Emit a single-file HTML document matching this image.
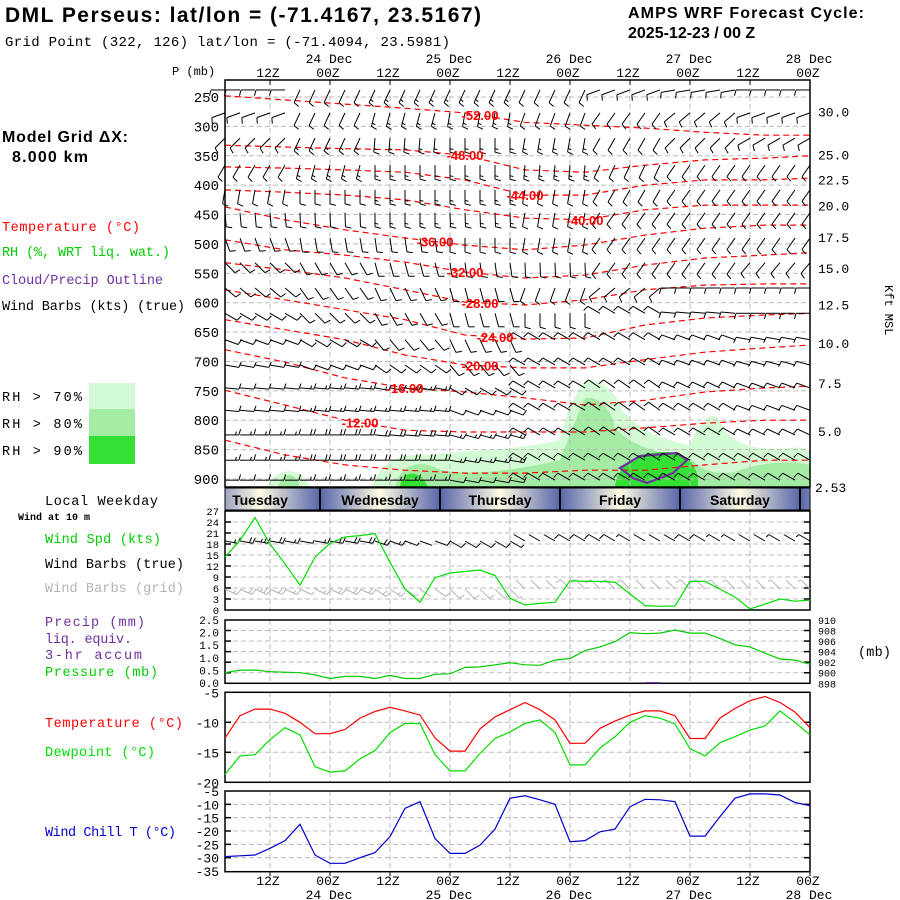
<!DOCTYPE html>
<html><head><meta charset="utf-8"><style>
html,body{margin:0;padding:0;background:#fff;}
svg{display:block;}
text{font-family:"Liberation Mono","DejaVu Sans Mono",monospace;}
.b{font-family:"Liberation Sans",Arial,sans-serif;font-weight:bold;}
</style></head><body>
<svg id="c" width="900" height="900" viewBox="0 0 900 900" xmlns="http://www.w3.org/2000/svg">
<defs></defs>
<text class="b" x="5" y="22" font-size="21" textLength="476">DML Perseus:  lat/lon = (-71.4167, 23.5167)</text>
<text x="5" y="46" font-size="14" textLength="445">Grid Point (322, 126) lat/lon = (-71.4094, 23.5981)</text>
<text class="b" x="628" y="18" font-size="16" textLength="236">AMPS WRF Forecast Cycle:</text>
<text class="b" x="628" y="38" font-size="16">2025-12-23 / 00  Z</text>
<text class="b" x="2" y="142" font-size="16" textLength="126">Model Grid ΔX:</text>
<text class="b" x="12" y="162" font-size="16" textLength="76">8.000 km</text>
<text x="172" y="75" font-size="12">P (mb)</text>
<g font-size="13.5">
<text x="2" y="231" fill="#ff0000" textLength="138">Temperature (°C)</text>
<text x="2" y="256" fill="#00cc00" textLength="168">RH (%, WRT liq. wat.)</text>
<text x="2" y="284" fill="#7030a0" textLength="161">Cloud/Precip Outline</text>
<text x="2" y="310" fill="#000" textLength="183">Wind Barbs (kts) (true)</text>
<text x="2" y="401" textLength="80">RH &gt; 70%</text>
<text x="2" y="428" textLength="80">RH &gt; 80%</text>
<text x="2" y="455" textLength="80">RH &gt; 90%</text>
<text x="45" y="505" textLength="113">Local Weekday</text>
<text x="45" y="543" fill="#00cc00" textLength="116">Wind Spd (kts)</text>
<text x="45" y="568" textLength="139">Wind Barbs (true)</text>
<text x="45" y="592" fill="#b4b4b4" textLength="139">Wind Barbs (grid)</text>
<text x="45" y="626" fill="#7030a0" textLength="100">Precip (mm)</text>
<text x="45" y="643" fill="#7030a0" textLength="87">liq. equiv.</text>
<text x="45" y="659" fill="#7030a0" textLength="97">3-hr accum</text>
<text x="45" y="676" fill="#00cc00" textLength="113">Pressure (mb)</text>
<text x="45" y="727" fill="#ff0000" textLength="138">Temperature (°C)</text>
<text x="45" y="756" fill="#00dd00" textLength="110">Dewpoint (°C)</text>
<text x="45" y="836" fill="#0000cc" textLength="131">Wind Chill T (°C)</text>
<text x="858" y="656" textLength="33">(mb)</text>
</g>
<text x="18" y="520" font-size="10" font-weight="bold">Wind at 10 m</text>
<rect x="89" y="383" width="46" height="26" fill="#d4fcd4"/>
<rect x="89" y="409" width="46" height="27" fill="#a4eca4"/>
<rect x="89" y="436" width="46" height="28" fill="#34e034"/>
<text x="885" y="285" font-size="12" transform="rotate(90 885 285)">Kft MSL</text>
</svg>
<script>
// ---------- data ----------
const nT = 40; // 3-hourly from 03Z 23 Dec to 00Z 28 Dec
const windSpd = [14.4,19,25.2,18,12.6,6.8,14.4,18.2,19.9,20.3,20.8,13,5.7,2.1,8.8,10.1,10.5,10.9,9.4,3.2,1.4,1.8,2.1,8,7.8,7.8,7.6,4.4,1.2,1,1.1,7.8,7.8,5.7,3.5,0.3,1.6,3,2.4,2.7];
const sfcDir = [100,100,110,120,300,300,300,300];
const pressure = [900,900.5,900.5,900.2,900.1,900,899.6,898.9,899.3,899.3,898.9,899.5,898.9,898.9,899.7,899.8,901,901.1,901.5,901.9,901.5,901.4,902.4,902.7,904.2,904.9,905.9,907.6,907.4,907.5,908.1,907.5,907.5,906.5,905.3,904.9,903.7,902.6,902.4,901.6];
const precip = [0,0,0,0,0,0,0,0,0,0,0,0,0,0,0,0,0,0,0,0,0,0,0,0,0,0,0,0,0.05,0,0,0,0,0,0,0,0,0,0,0];
const temp = [-12.6,-8.9,-7.8,-7.8,-8.5,-10,-11.9,-11.9,-11.2,-9.3,-8.2,-7.5,-8.1,-8.8,-12.6,-14.8,-14.8,-11.1,-9.1,-7.9,-6.7,-7.9,-9.6,-13.5,-13.5,-11,-9.8,-8.8,-8.1,-8.1,-8.9,-12.7,-12.7,-9.3,-7.7,-6.4,-5.7,-6.7,-8.3,-10.9];
const dewp = [-18.7,-15.6,-15.4,-12.9,-10.9,-12.1,-17.4,-18.3,-18.1,-16.1,-14.7,-11.7,-10.2,-10.2,-15.4,-18.1,-18.1,-15.2,-12.7,-11.6,-10.2,-9.6,-11.7,-17.1,-17.1,-14.3,-12.4,-10,-8.9,-9.3,-10.3,-14.4,-15.6,-13.4,-12.4,-11.3,-10.6,-8.1,-10,-12.1];
const windChill = [-29.6,-29.3,-29,-26.5,-23.6,-17.5,-29,-32.1,-32.1,-30,-28.1,-22.1,-11.5,-9,-22.8,-28.4,-28.4,-25.3,-19.3,-7.7,-6.8,-8.3,-10,-24,-23.6,-20.3,-19.3,-10.9,-8.1,-8.3,-9,-21.9,-21.9,-14.6,-7.7,-6.1,-6.1,-6.5,-9.3,-10.5];
// isotherm pressures at 11 nodes (every 4 time steps)
const isoValues = [-52,-48,-44,-40,-36,-32,-28,-24,-20,-16,-12,-8];
const iso52 = [248,255,262,269,277,293,298,303,310,315,315];
const iso48 = [332,335,338,340,349,374,378,366,357,354,350];
const iso44 = [369,371,374,378,391,417,417,400,391,391,388];
const iso40 = [408,412,417,425,442,456,459,442,434,434,434];
const iso36 = [437,459,476,490,502,510,502,485,473,468,468];
const iso32 = [493,510,519,531,548,558,553,536,524,519,515];
const iso28 = [532,544,558,578,599,604,595,578,570,568,568];
const iso24 = [578,595,612,629,655,662,660,638,626,621,618];
const iso20 = [629,646,663,689,706,711,711,697,684,677,672];
const iso16 = [680,701,728,745,752,762,774,766,752,745,742];
const iso12 = [749,774,800,817,820,820,820,813,805,800,800];
const iso08 = [834,859,876,885,890,890,885,885,876,868,868];
const isoLabelTime = [17,16,20,24,14,16,17,18,17,12,9,-1];
// upper-air barbs: levels (mb), direction (screen deg) & speed (kt) per 15-h block
const barbLevels = [238,277,320,366,408,447,490,532,575,618,663,706,745,783,825,868,902];
const barbDir = [
[270,205,205,205,205,250,260,270],[250,205,195,190,200,215,230,250],[225,205,185,180,190,210,225,240],
[210,195,180,180,185,205,215,215],[190,180,180,180,190,210,215,215],[175,178,180,178,190,215,215,215],
[160,170,172,180,190,215,215,215],[135,150,165,172,178,215,215,220],[130,145,155,165,200,230,270,270],
[120,135,150,165,180,300,275,270],[110,120,140,155,300,300,290,280],[100,110,125,140,300,300,290,285],
[95,95,100,120,300,305,295,290],[95,95,95,110,300,305,300,290],[90,90,95,105,300,305,300,295],
[90,90,90,100,300,300,300,300],[90,90,90,100,300,300,300,300]];
const barbSpd = [
[10,10,15,15,10,10,10,10],[10,10,15,15,10,10,10,10],[10,15,15,15,15,10,10,10],[10,15,15,15,15,10,10,10],
[10,10,15,15,10,10,10,10],[10,10,15,15,10,10,10,10],[10,10,10,10,10,10,10,10],[10,10,10,10,10,10,10,10],
[10,10,10,10,10,10,10,10],[10,10,10,10,10,10,10,10],[10,10,10,10,10,10,10,10],[10,10,10,10,10,10,10,10],
[10,15,15,10,10,10,10,10],[10,15,15,10,10,10,10,10],[15,20,20,15,10,10,10,10],[15,20,20,15,10,10,10,10],[10,15,15,10,10,10,10,10]];
const pressTicks = [250,300,350,400,450,500,550,600,650,700,750,800,850,900];
const kftLabels = ["30.0","25.0","22.5","20.0","17.5","15.0","12.5","10.0","7.5","5.0"];
const kftPress = [275,348,390,435,488,541,603,669,737,818];
const spdTicks = [0,3,6,9,12,15,18,21,24,27];
const prcLabels = ["2.5","2.0","1.5","1.0","0.5","0.0"];
const prsTicks = [898,900,902,904,906,908,910];
const tTicks = [-5,-10,-15,-20];
const wcTicks = [-5,-10,-15,-20,-25,-30,-35];
const zLabels = ["12Z","00Z","12Z","00Z","12Z","00Z","12Z","00Z","12Z","00Z"];
const zIdx = [3,7,11,15,19,23,27,31,35,39];
const dateLabels = ["24 Dec","25 Dec","26 Dec","27 Dec","28 Dec"];
const dateIdx = [7,15,23,31,39];
const dayNames = ["Tuesday","Wednesday","Thursday","Friday","Saturday"];

// ---------- scales ----------
const X0=225, X1=810;
const xT = i => X0 + (X1-X0)*i/(nT-1);
const yP = p => 97 + (p-250)*0.5877;
const ySpd = v => 610 - v*(99/27);
const yPrs = p => 683.3 - (p-898)*5.28;
const yPrc = v => 683.3 - v*25.2;
const yTmp = t => 692.3 + (-5 - t)*6;
const yWc = t => 791 + (-5 - t)*(80/30);
const svg = document.getElementById('c');
const NS = 'http://www.w3.org/2000/svg';
function el(tag, attrs, parent){
  const e = document.createElementNS(NS, tag);
  for (const k in attrs) e.setAttribute(k, attrs[k]);
  (parent||svg).appendChild(e);
  return e;
}
function txt(s, x, y, size, anchor, parent, fill){
  const t = el('text', {x:x, y:y, 'font-size':size, 'text-anchor':anchor||'start', fill:fill||'#000'}, parent);
  t.textContent = s;
  return t;
}
function line(x1,y1,x2,y2,stroke,w,dash,parent){
  const a = {x1:x1,y1:y1,x2:x2,y2:y2,stroke:stroke,'stroke-width':w||1};
  if (dash) a['stroke-dasharray']=dash;
  return el('line', a, parent);
}
function poly(vals, yf, color, name){
  const pts = vals.map((v,i)=> xT(i).toFixed(1)+','+yf(v).toFixed(1)).join(' ');
  const p = el('polyline', {points:pts, fill:'none', stroke:color, 'stroke-width':1.2});
  
  
  return p;
}
function barb(x, y, dirDeg, spd, color, len, parent){
  const g = el('g', {stroke:color, 'stroke-width':1, fill:'none'}, parent);
  const r = dirDeg*Math.PI/180;
  const ex = x + len*Math.sin(r), ey = y - len*Math.cos(r);
  line(x,y,ex,ey,color,1,null,g);
  let s = Math.round(spd/5)*5, k = 0;
  const fr = (dirDeg-75)*Math.PI/180;
  while (s >= 10){ const bx = ex - k*3.5*Math.sin(r), by = ey + k*3.5*Math.cos(r);
    line(bx,by,bx+6*Math.sin(fr),by-6*Math.cos(fr),color,1,null,g); s-=10; k++; }
  if (s >= 5){ const bx = ex - k*3.5*Math.sin(r), by = ey + k*3.5*Math.cos(r);
    line(bx,by,bx+3.5*Math.sin(fr),by-3.5*Math.cos(fr),color,1,null,g); }
  return g;
}

// ---------- main panel ----------
const main = el('g', {});


const rh = el('g', {}, main);


const rh70 = el('path', {fill:'#d4fcd4', d:'M268,487 C272,470 300,462 310,487 Z M372,487 C380,462 400,452 430,455 C470,450 520,450 560,440 C565,420 570,400 585,382 C600,378 615,390 622,410 C640,430 660,440 690,445 C700,420 712,410 720,420 C724,440 750,452 790,448 C800,446 808,450 810,450 L810,487 Z'}, rh);


const rh80 = el('path', {fill:'#a4eca4', d:'M278,487 C282,472 296,470 300,487 Z M395,487 C400,465 420,458 440,470 C470,476 520,470 560,460 C568,440 575,420 585,398 C600,396 612,410 615,428 C630,445 660,455 690,458 C700,470 720,478 740,470 C770,460 800,462 810,465 L810,487 Z'}, rh);


const rh90 = el('path', {fill:'#34e034', d:'M400,487 C402,470 420,468 428,487 Z M615,487 C618,462 640,452 665,452 C685,452 700,465 698,487 Z'}, rh);


zIdx.forEach(i=>{ const g=line(xT(i),80,xT(i),487,'#bbb',1,'5,3',main);
  
   });
pressTicks.forEach(p=>{ const g=line(X0,yP(p),X1,yP(p),'#bbb',1,'5,3',main);
  
  
  const t=txt(String(p),219,yP(p)+5,14,'end',main);
  
   });
kftLabels.forEach((s,i)=>{ const t=txt(s,818,yP(kftPress[i])+5,13,'start',main);
  
   });
const k253 = txt('2.53',815,492,13,'start',main);


const isoSeries = [iso52,iso48,iso44,iso40,iso36,iso32,iso28,iso24,iso20,iso16,iso12,iso08];
const labelsG = [];
isoSeries.forEach((arr,k)=>{
  const pts = arr.map((p,j)=> xT(Math.min(j*4,nT-1)).toFixed(1)+','+yP(p).toFixed(1)).join(' ');
  const pl = el('polyline', {points:pts, fill:'none', stroke:'#ff0000','stroke-width':1.2,'stroke-dasharray':'6,4'}, main);
  
  
  const li = isoLabelTime[k];
  if (li >= 0){
    const j = Math.floor(li/4), f = (li-j*4)/4;
    const pp = arr[j] + (arr[Math.min(j+1,arr.length-1)]-arr[j])*f;
    labelsG.push([isoValues[k].toFixed(2), xT(li), yP(pp)+5]);
  }
});
const cloud = el('polygon', {points:'620,468 640,456 677,453 687,460 673,473 647,483 633,478', fill:'none', stroke:'#7030a0','stroke-width':2.2}, main);


const bg = el('g', {}, main);


barbLevels.forEach((p,r)=>{
  for (let i=0;i<nT;i++){
    const blk = Math.min(7, Math.floor(i/5));
    const b = barb(xT(i), yP(p), barbDir[r][blk], barbSpd[r][blk], '#000', 14, bg);
    
    
  }
});
labelsG.forEach(l=>{
  const t = txt(l[0], l[1], l[2], 13, 'middle', main, '#ff0000');
  t.setAttribute('class','b');
  
  
});
const frame = el('rect', {x:X0,y:80,width:X1-X0,height:407,fill:'none',stroke:'#000','stroke-width':1.5}, main);


zLabels.forEach((s,k)=>{ const t=txt(s,xT(zIdx[k])-2,77,13,'middle');
  
  
  const tk=line(xT(zIdx[k]),80,xT(zIdx[k]),85,'#000',1);
  
  
  const t2=txt(s,xT(zIdx[k])-2,885,13,'middle');
  
   });
dateLabels.forEach((s,k)=>{ const t=txt(s,xT(dateIdx[k])-1,63,13,'middle');
  
  
  const t2=txt(s,xT(dateIdx[k])-1,899,13,'middle');
  
   });

// ---------- weekday bar ----------
const wd = el('g', {});


el('rect',{x:X0,y:488,width:X1-X0,height:22,fill:'#5866aa'},wd);
for (let d=0; d<6; d++){
  const xs = 200 + d*120;
  const lg = el('linearGradient',{id:'g'+d,gradientUnits:'userSpaceOnUse',x1:xs,x2:xs+120,y1:0,y2:0}, svg.querySelector('defs'));
  el('stop',{offset:0,'stop-color':'#5866aa'},lg); el('stop',{offset:0.5,'stop-color':'#fffbe2'},lg); el('stop',{offset:1,'stop-color':'#5866aa'},lg);
  const r = el('rect',{x:Math.max(X0,xs),y:488,width:Math.min(X1,xs+120)-Math.max(X0,xs),height:22,fill:'url(#g'+d+')'},wd);
  
  
  if (d>0 && xs<X1){ const dl=line(xs,488,xs,510,'#000',2,null,wd);
    
     }
  if (d<5){ const t=txt(dayNames[d], xs+60, 505, 14, 'middle', wd);
    t.setAttribute('class','b');
    
     }
}
el('rect',{x:X0,y:488,width:X1-X0,height:22,fill:'none',stroke:'#000'},wd);

function panel(name, y0, y1, gridYs){
  const g = el('g', {});
  
  
  zIdx.forEach(i=>{ if (i<nT-1){ const l=line(xT(i),y0,xT(i),y1,'#bbb',1,'5,3',g);
    
     }});
  gridYs.forEach(y=>{ const l=line(X0,y,X1,y,'#bbb',1,'5,3',g);
    
    
    line(X0,y,X0+6,y,'#000',1.5,null,g); line(X1-6,y,X1,y,'#000',1.5,null,g); });
  const f = el('rect',{x:X0,y:y0,width:X1-X0,height:y1-y0,fill:'none',stroke:'#000','stroke-width':1.5},g);
  
  
  return g;
}
panel('wind-panel', 511, 610, spdTicks.slice(1,-1).map(ySpd));
spdTicks.forEach(v=>{ const t=txt(String(v),219,ySpd(v)+4,10.5,'end');
  
   });
const sb = el('g',{});


windSpd.forEach((v,i)=>{
  const blk = Math.min(7, Math.floor(i/5));
  const b1 = barb(xT(i), 541, sfcDir[blk], v, '#000', 13, sb);
  
  
  const b2 = barb(xT(i), 589, sfcDir[blk]+15, v, '#b4b4b4', 13, sb);
  
  
});
poly(windSpd, ySpd, '#00dd00', 'wind-speed-line');

panel('precip-pressure-panel', 620, 683.3, prsTicks.slice(1,-1).map(yPrs));
prcLabels.forEach((s,k)=>{ const t=txt(s,219,620+k*12.6+4,11,'end');
  
   });
prsTicks.forEach(v=>{ const t=txt(String(v),818,yPrs(v)+4,10,'start');
  
   });
precip.forEach((v,i)=>{ if (v>0){ const r=el('rect',{x:xT(i),y:yPrc(v),width:15,height:683.3-yPrc(v),fill:'#7030a0'});
  
   }});
poly(pressure, yPrs, '#00cc00', 'pressure-line');

panel('temperature-panel', 692.3, 782.3, [yTmp(-10), yTmp(-15)]);
tTicks.forEach(v=>{ const t=txt(String(v),219,yTmp(v)+5,13,'end');
  
   });
poly(temp, yTmp, '#ff0000', 'temperature-line');
poly(dewp, yTmp, '#00dd00', 'dewpoint-line');

panel('wind-chill-panel', 791, 871.7, wcTicks.slice(1,-1).map(yWc));
wcTicks.forEach(v=>{ const t=txt(String(v),219,yWc(v)+5,13,'end');
  
   });
poly(windChill, yWc, '#0000cc', 'wind-chill-line');
zIdx.forEach(i=>{ const tk=line(xT(i),871.7,xT(i),876,'#000',1);
  
   });
</script>
</body></html>
